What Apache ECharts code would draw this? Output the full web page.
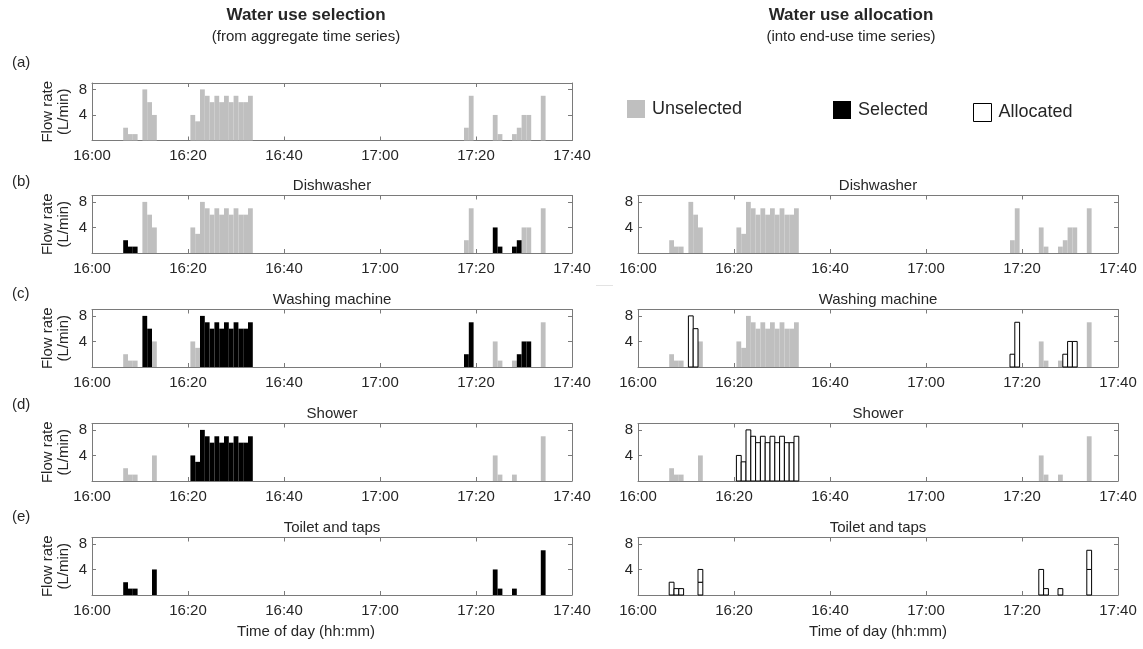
<!DOCTYPE html>
<html><head><meta charset="utf-8">
<script src="https://cdn.jsdelivr.net/npm/echarts@6/dist/echarts.min.js"></script>
<style>html,body{margin:0;padding:0;background:#fff}#c{width:1143px;height:649px}</style>
</head><body><div id="c"></div>
<script>
// ---------- data ----------
const xTickLabels = ['16:00','16:20','16:40','17:00','17:20','17:40'];
const yTickLabels = [4, 8];
const minutes  = [7,8,9,11,12,13,21,22,23,24,25,26,27,28,29,30,31,32,33,78,79,84,85,88,89,90,91,94];
const flowRate = [2,1,1,8,6,4,4,3,8,7,6,7,6,7,6,7,6,6,7,2,7,4,1,1,2,4,4,7];
const endUses = ['Dishwasher','Washing machine','Shower','Toilet and taps'];
const selectedDishwasher = [7,8,9,84,85,88,89];
const selectedWashing    = [11,12,23,24,25,26,27,28,29,30,31,32,33,78,79,89,90,91];
const selectedShower     = [21,22,23,24,25,26,27,28,29,30,31,32,33];
const selectedToilet     = [7,8,9,13,84,85,88,94];
const allocatedDishwasher = [];
const allocatedWashing    = [11,12,78,79,89,90,91];
const allocatedShower     = [21,22,23,24,25,26,27,28,29,30,31,32,33];
const allocatedToilet     = [7,8,9,13,84,85,88,94];
// overlapping toilet/tap events: minute and flow of the lower event
const toiletOverlapMinutes = [13, 94];
const toiletOverlapLower   = [2, 4];
const panelLetters = ['(a)','(b)','(c)','(d)','(e)'];

const selected  = [selectedDishwasher, selectedWashing, selectedShower, selectedToilet];
const allocated = [allocatedDishwasher, allocatedWashing, allocatedShower, allocatedToilet];

// ---------- layout ----------
const FONT = '"Liberation Sans", Arial, sans-serif';
const AX = '#7a7a7a', TXT = '#262626';
const LEFT_X = 92, RIGHT_X = 638, W = 480, H = 57.5;
const TOPS = [83, 195.5, 309.5, 423.5, 537.5];
const styles = {
  'Unselected': {color:'#BFBFBF'},
  'Selected':   {color:'#000000'},
  'Allocated':  {color:'#ffffff', borderColor:'#000000', borderWidth:1}
};

const grids = [], xAxes = [], yAxes = [], series = [], graphics = [];

function axisCommon() {
  return {
    type:'value', splitLine:{show:false},
    axisLine:{show:true, onZero:false, lineStyle:{color:AX, width:1}},
    axisTick:{show:true, inside:true, length:4, lineStyle:{color:AX, width:1}}
  };
}
function addPanel(left, top, showName) {
  const gi = grids.length;
  grids.push({left:left, top:top, width:W, height:H, containLabel:false});
  xAxes.push(Object.assign(axisCommon(), {gridIndex:gi, position:'bottom', min:0, max:100, interval:20,
    axisLabel:{margin:8, color:TXT, fontSize:15, fontFamily:FONT,
      formatter: v => xTickLabels[Math.round(v/20)] || ''}}));
  xAxes.push(Object.assign(axisCommon(), {gridIndex:gi, position:'top', min:0, max:100, interval:20,
    axisLabel:{show:false}}));
  yAxes.push(Object.assign(axisCommon(), {gridIndex:gi, position:'left', min:0, max:9, interval:4,
    axisLabel:{margin:5, color:TXT, fontSize:15, fontFamily:FONT, showMaxLabel:false,
      formatter: v => yTickLabels.includes(v) ? String(v) : ''},
    name: showName ? 'Flow rate\n(L/min)' : '', nameLocation:'middle', nameRotate:90, nameGap:20,
    nameTextStyle:{color:TXT, fontSize:15, lineHeight:16, fontFamily:FONT}}));
  yAxes.push(Object.assign(axisCommon(), {gridIndex:gi, position:'right', min:0, max:9, interval:4,
    axisLabel:{show:false}}));
  return gi;
}
function renderBar(params, api) {
  const m = api.value(0), v = api.value(1), b = api.value(2) || 0;
  const p0 = api.coord([m - 0.5, v]);
  const p1 = api.coord([m + 0.5, b]);
  return {type:'rect', shape:{x:p0[0], y:p0[1], width:p1[0]-p0[0], height:p1[1]-p0[1]},
          style: api.style()};
}
function addBars(gi, name, data) {
  if (!data.length) return;
  series.push({type:'custom', name:name, xAxisIndex:2*gi, yAxisIndex:2*gi, renderItem:renderBar,
    itemStyle: styles[name], encode:{x:0, y:1}, data:data, silent:true, z: name==='Allocated'?3:2});
}
function text(t, x, y, size, opts) {
  graphics.push({type:'text', x:x, y:y, silent:true,
    style:Object.assign({text:t, fill:TXT, font: size + 'px ' + FONT, textAlign:'center', textVerticalAlign:'middle'}, opts||{})});
}

// Panel (a): aggregate
let gi = addPanel(LEFT_X, TOPS[0], true);
addBars(gi, 'Unselected', minutes.map((m,i)=>[m, flowRate[i], 0]));

// remaining events at each stage
let removed = new Set();
for (let k = 0; k < endUses.length; k++) {
  const rem = minutes.map((m,i)=>[m, flowRate[i], 0]).filter(d => !removed.has(d[0]));
  const sel = new Set(selected[k]), alc = new Set(allocated[k]);
  let g = addPanel(LEFT_X, TOPS[k+1], true);
  addBars(g, 'Unselected', rem.filter(d => !sel.has(d[0])));
  addBars(g, 'Selected',   rem.filter(d => sel.has(d[0])));
  let g2 = addPanel(RIGHT_X, TOPS[k+1], false);
  addBars(g2, 'Unselected', rem.filter(d => !alc.has(d[0])));
  let alcBars = [];
  rem.filter(d => alc.has(d[0])).forEach(d => {
    const j = (k === 3) ? toiletOverlapMinutes.indexOf(d[0]) : -1;
    if (j >= 0) {
      alcBars.push([d[0], toiletOverlapLower[j], 0]);
      alcBars.push([d[0], d[1], toiletOverlapLower[j]]);
    } else alcBars.push(d);
  });
  addBars(g2, 'Allocated', alcBars);
  text(endUses[k], LEFT_X + W/2, TOPS[k+1] - 10, 15);
  text(endUses[k], RIGHT_X + W/2, TOPS[k+1] - 10, 15);
  allocated[k].forEach(m => removed.add(m));
}

// texts
text('Water use selection', 306, 15, 16, {font:'bold 17px ' + FONT});
text('(from aggregate time series)', 306, 37, 15);
text('Water use allocation', 851, 15, 16, {font:'bold 17px ' + FONT});
text('(into end-use time series)', 851, 37, 15);
const labelY = [63, 182, 294, 405, 517];
panelLetters.forEach((p,i)=> text(p, 12, labelY[i], 15, {textAlign:'left'}));
text('Time of day (hh:mm)', 306, 632, 15);
text('Time of day (hh:mm)', 878, 632, 15);
graphics.push({type:'line', silent:true, shape:{x1:596, y1:285.5, x2:613, y2:285.5}, style:{stroke:'#e3e3e3', lineWidth:1}});

const legendBase = {orient:'horizontal', itemWidth:18, itemHeight:18, icon:'rect', selectedMode:false, padding:0,
  itemStyle:{borderWidth:0},
  textStyle:{fontSize:18, color:TXT, fontFamily:FONT, padding:[0,0,0,2]}};
const chart = echarts.init(document.getElementById('c'), null, {renderer:'canvas'});
chart.setOption({
  backgroundColor:'#ffffff',
  animation:false,
  grid:grids, xAxis:xAxes, yAxis:yAxes, series:series,
  legend:[
    Object.assign({}, legendBase, {data:['Unselected'], left:627, top:100}),
    Object.assign({}, legendBase, {data:['Selected'],   left:833, top:101}),
    Object.assign({}, legendBase, {data:['Allocated'],  left:973, top:103,
      itemStyle:{borderWidth:1, borderColor:'#000', color:'#fff'}})
  ],
  graphic:graphics
});
</script></body></html>
